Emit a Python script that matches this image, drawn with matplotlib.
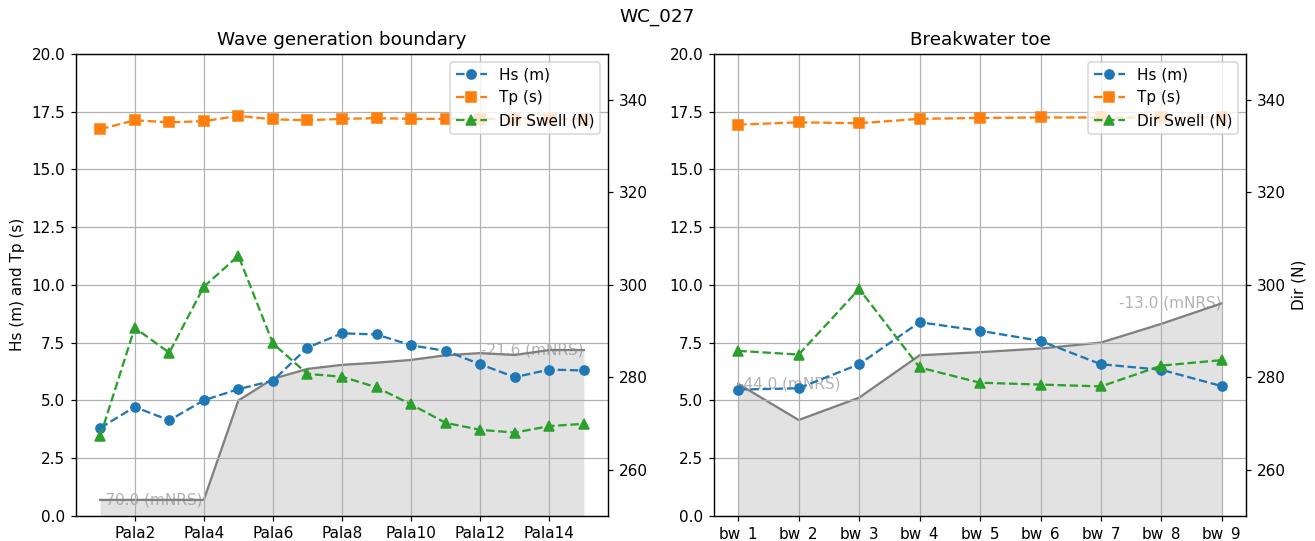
import numpy as np
import matplotlib
matplotlib.use("Agg")
import matplotlib.pyplot as plt

# ---- Wave generation boundary (Pala1..Pala15) ----
pala_names = [f"Pala{i}" for i in range(1, 16)]
pala_hs = [3.80, 4.71, 4.13, 5.00, 5.48, 5.85, 7.28, 7.90, 7.85, 7.38, 7.14, 6.56, 6.00, 6.33, 6.29]
pala_tp = [16.74, 17.13, 17.04, 17.09, 17.32, 17.17, 17.13, 17.19, 17.22, 17.19, 17.19, 17.19, 17.2, 17.2, 17.2]
pala_dir = [267.2, 290.7, 285.3, 299.6, 306.3, 287.3, 280.7, 280.1, 277.8, 274.1, 270.1, 268.6, 268.0, 269.4, 269.9]
pala_depth = [-70.0, -70.0, -70.0, -70.0, -37.9, -30.9, -27.7, -26.4, -25.7, -24.8, -23.3, -22.6, -23.2, -21.6, -21.6]

# ---- Breakwater toe (bw_1..bw_9) ----
bw_names = [f"bw_{i}" for i in range(1, 10)]
bw_hs = [5.46, 5.52, 6.56, 8.38, 8.01, 7.57, 6.56, 6.32, 5.61]
bw_tp = [16.94, 17.04, 17.00, 17.19, 17.23, 17.25, 17.25, 17.25, 17.25]
bw_dir = [285.7, 284.9, 299.1, 282.1, 278.8, 278.4, 278.0, 282.5, 283.7]
bw_depth = [-44.0, -57.9, -49.3, -33.0, -31.8, -30.4, -28.1, -20.9, -13.0]

panels = [
    dict(title="Wave generation boundary", names=pala_names, hs=pala_hs, tp=pala_tp,
         dr=pala_dir, depth=pala_depth, depth_lim=(-75.1, 74.0), tick_step=2,
         left_label="Hs (m) and Tp (s)", right_label=None),
    dict(title="Breakwater toe", names=bw_names, hs=bw_hs, tp=bw_tp,
         dr=bw_dir, depth=bw_depth, depth_lim=(-94.7, 82.9), tick_step=1,
         left_label=None, right_label="Dir (N)"),
]

DPI = 110
fig = plt.figure(figsize=(1315 / DPI, 541 / DPI), dpi=DPI)
fig.suptitle("WC_027", fontsize=12, y=0.985)

positions = [[0.0578, 0.0468, 0.4046, 0.8534], [0.5430, 0.0468, 0.4046, 0.8534]]

for pos, p in zip(positions, panels):
    ax1 = fig.add_axes(pos)
    ax2 = ax1.twinx()
    ax3 = ax1.twinx()
    ax3.set_zorder(0)
    ax1.set_zorder(1)
    ax2.set_zorder(2)
    ax1.patch.set_visible(False)
    ax2.patch.set_visible(False)

    x = np.arange(1, len(p["names"]) + 1)

    # seabed profile on a hidden axis behind everything
    lo, hi = p["depth_lim"]
    ax3.fill_between(x, p["depth"], lo, color="#e2e2e2", lw=0)
    ax3.plot(x, p["depth"], color="gray", lw=1.5)
    ax3.set_ylim(lo, hi)
    ax3.axis("off")
    ax3.text(x[0], p["depth"][0], f"{p['depth'][0]:.1f} (mNRS)", ha="left", va="center",
             color="gray", alpha=0.6, fontsize=10)
    ax3.text(x[-1], p["depth"][-1], f"{p['depth'][-1]:.1f} (mNRS)", ha="right", va="center",
             color="gray", alpha=0.6, fontsize=10)

    l1, = ax1.plot(x, p["hs"], "o--", color="C0", label="Hs (m)")
    l2, = ax1.plot(x, p["tp"], "s--", color="C1", label="Tp (s)")
    l3, = ax2.plot(x, p["dr"], "^--", color="C2", label="Dir Swell (N)")

    ax1.set_ylim(0, 20)
    ax1.set_yticks(np.arange(0, 20.01, 2.5))
    ax2.set_ylim(250, 350)
    ax2.set_yticks([260, 280, 300, 320, 340])

    step = p["tick_step"]
    ticks = x[step - 1::step]
    ax1.set_xticks(ticks)
    ax1.set_xticklabels(p["names"][step - 1::step])
    ax1.grid(True)

    ax1.set_title(p["title"], fontsize=12)
    if p["left_label"]:
        ax1.set_ylabel(p["left_label"])
    if p["right_label"]:
        ax2.set_ylabel(p["right_label"])

    ax2.legend(handles=[l1, l2, l3], loc="upper right")

fig.savefig("out.png", dpi=DPI)
